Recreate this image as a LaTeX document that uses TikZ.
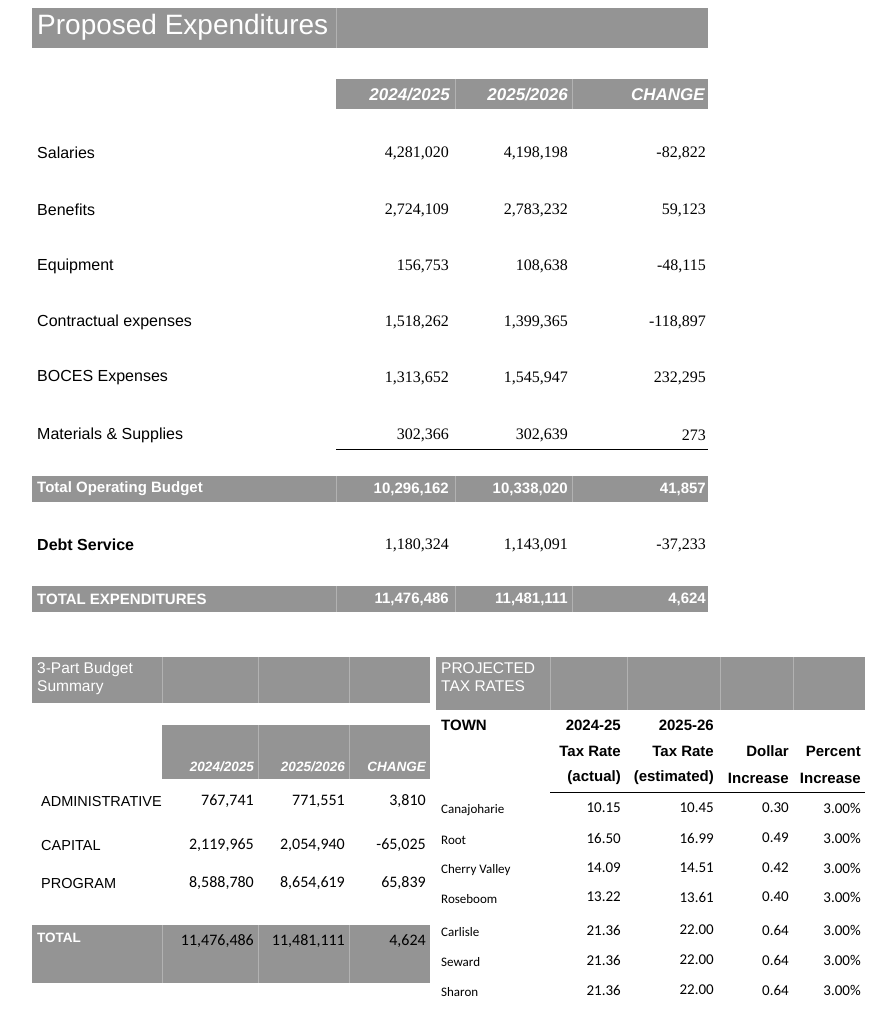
\documentclass[tikz,border=0pt]{standalone}
\usepackage{fontspec}
\setmainfont{Liberation Serif}
\setsansfont{Liberation Sans}
\newfontfamily\calib{Carlito}
\begin{document}
\begin{tikzpicture}[x=1pt,y=-1pt,
  bar/.style={fill=black!42,draw=none},
  sep/.style={draw=black!30,line width=0.6pt},
  lab/.style={anchor=west,inner sep=0,font=\sffamily\fontsize{16}{16}\selectfont},
  val/.style={anchor=east,inner sep=0,font=\rmfamily\fontsize{16}{16}\selectfont},
  hd/.style={anchor=east,inner sep=0,text=white,font=\sffamily\bfseries\itshape\fontsize{17}{17}\selectfont},
  wb/.style={anchor=west,inner sep=0,text=white,font=\sffamily\bfseries\fontsize{15}{15}\selectfont},
  wbv/.style={anchor=east,inner sep=0,text=white,font=\sffamily\bfseries\fontsize{15}{15}\selectfont},
  cv/.style={anchor=east,inner sep=0,font=\calib\fontsize{16}{16}\selectfont},
  cs/.style={anchor=west,inner sep=0,font=\calib\fontsize{13}{13}\selectfont},
  bh/.style={anchor=east,inner sep=0,font=\sffamily\bfseries\fontsize{15}{15}\selectfont},
  sh/.style={anchor=east,inner sep=0,text=white,font=\sffamily\bfseries\itshape\fontsize{13.5}{13.5}\selectfont}]
\useasboundingbox (0,0) rectangle (895,1024);
% top title
\fill[bar] (32,8) rectangle (708,48);
\draw[sep] (336,8) -- (336,48);
\node[anchor=west,inner sep=0,text=white,font=\sffamily\fontsize{28}{28}\selectfont] (title) at (37,27) {Proposed Expenditures};
\fill[bar] (336,79) rectangle (708,109);
\draw[sep] (455,79)--(455,109) (572,79)--(572,109);
\node[hd] (h1) at (450,95) {2024/2025};
\node[hd] (h2) at (568,95) {2025/2026};
\node[hd] (h3) at (705,95) {CHANGE};
\foreach \y/\l/\a/\b/\c [count=\i] in {{153/Salaries/4,281,020/4,198,198/-82,822},
  {210/Benefits/2,724,109/2,783,232/59,123},
  {266/Equipment/156,753/108,638/-48,115},
  {322/Contractual expenses/1,518,262/1,399,365/-118,897},
  {378/BOCES Expenses/1,313,652/1,545,947/232,295},
  {435/Materials \& Supplies/302,366/302,639/273}}{
  \node[lab] (r\i) at (37,\y) {\l};
  \node[val] (ra\i) at (449,\y) {\a};
  \node[val] (rb\i) at (568,\y) {\b};
  \node[val] (rc\i) at (706,\y) {\c};
}
\draw[line width=0.6pt] (336,449) -- (708,449);
\fill[bar] (32,476) rectangle (708,502);
\draw[sep] (336,476)--(336,502) (455,476)--(455,502) (572,476)--(572,502);
\node[wb] (tob) at (37,489) {Total Operating Budget};
\node[wbv] (toa) at (449,489) {10,296,162};
\node[wbv] (tob2) at (568,489) {10,338,020};
\node[wbv] (toc) at (706,489) {41,857};
\node[lab,font=\sffamily\bfseries\fontsize{16}{16}\selectfont] (ds) at (37,545) {Debt Service};
\node[val] (dsa) at (449,545) {1,180,324};
\node[val] (dsb) at (568,545) {1,143,091};
\node[val] (dsc) at (706,545) {-37,233};
\fill[bar] (32,586) rectangle (708,612);
\draw[sep] (336,586)--(336,612) (455,586)--(455,612) (572,586)--(572,612);
\node[wb] (te) at (37,599) {TOTAL EXPENDITURES};
\node[wbv] (tea) at (449,599) {11,476,486};
\node[wbv] (teb) at (568,599) {11,481,111};
\node[wbv] (tec) at (706,599) {4,624};
% bottom left
\fill[bar] (32,657) rectangle (430,703);
\draw[sep] (162,657)--(162,703) (258,657)--(258,703) (349,657)--(349,703);
\node[anchor=north west,inner sep=0,text=white,align=left,font=\sffamily\fontsize{15.5}{18}\selectfont] (bs) at (37,662) {3-Part Budget\\Summary};
\fill[bar] (162,725) rectangle (430,779);
\draw[sep] (258,725)--(258,779) (349,725)--(349,779);
\node[sh] (s1) at (254,767) {2024/2025};
\node[sh] (s2) at (345,767) {2025/2026};
\node[sh] (s3) at (426,767) {CHANGE};
\foreach \y/\l/\a/\b/\c [count=\i] in {{801/ADMINISTRATIVE/767,741/771,551/3,810},
  {845/CAPITAL/2,119,965/2,054,940/-65,025},
  {883/PROGRAM/8,588,780/8,654,619/65,839}}{
  \node[lab,font=\sffamily\fontsize{14.5}{14.5}\selectfont] (p\i) at (41,\y) {\l};
  \node[cv] (pa\i) at (254,\y) {\a};
  \node[cv] (pb\i) at (345,\y) {\b};
  \node[cv] (pc\i) at (426,\y) {\c};
}
\fill[bar] (32,925) rectangle (430,983);
\draw[sep] (162,925)--(162,983) (258,925)--(258,983) (349,925)--(349,983);
\node[wb,font=\sffamily\bfseries\fontsize{13.5}{13.5}\selectfont] (tt) at (37,938) {TOTAL};
\node[cv] (tta) at (254,941) {11,476,486};
\node[cv] (ttb) at (345,941) {11,481,111};
\node[cv] (ttc) at (426,941) {4,624};
% bottom right
\fill[bar] (436,657) rectangle (865,710);
\draw[sep] (550,657)--(550,710) (627,657)--(627,710) (720,657)--(720,710) (793,657)--(793,710);
\node[anchor=north west,inner sep=0,text=white,align=left,font=\sffamily\fontsize{15.5}{18}\selectfont] (pt) at (441,662) {PROJECTED\\TAX RATES};
\node[bh,anchor=west] (town) at (441,725) {TOWN};
\node[bh] (c1a) at (621,725) {2024-25};
\node[bh] (c2a) at (714,725) {2025-26};
\node[bh] (c1b) at (621,751) {Tax Rate};
\node[bh] (c2b) at (714,751) {Tax Rate};
\node[bh] (c3b) at (789,751) {Dollar};
\node[bh] (c4b) at (861,751) {Percent};
\node[bh] (c1c) at (621,778) {(actual)};
\node[bh] (c2c) at (714,778) {(estimated)};
\node[bh] (c3c) at (789,778) {Increase};
\node[bh] (c4c) at (861,778) {Increase};
\draw[line width=0.6pt] (550,792) -- (865,792);
\foreach \y/\l/\a/\b/\c [count=\i] in {808/Canajoharie/10.15/10.45/0.30,
  838/Root/16.50/16.99/0.49,
  868/Cherry Valley/14.09/14.51/0.42,
  897/Roseboom/13.22/13.61/0.40,
  930/Carlisle/21.36/22.00/0.64,
  960/Seward/21.36/22.00/0.64,
  990/Sharon/21.36/22.00/0.64}{
  \node[cs] (t\i) at (441,\y+2) {\l};
  \node[cv,font=\calib\fontsize{15}{15}\selectfont] (ta\i) at (621,\y) {\a};
  \node[cv,font=\calib\fontsize{15}{15}\selectfont] (tb\i) at (714,\y) {\b};
  \node[cv,font=\calib\fontsize{15}{15}\selectfont] (tc\i) at (789,\y) {\c};
  \node[cv,font=\calib\fontsize{15}{15}\selectfont] (td\i) at (861,\y) {3.00\%};
}
\end{tikzpicture}
\end{document}
